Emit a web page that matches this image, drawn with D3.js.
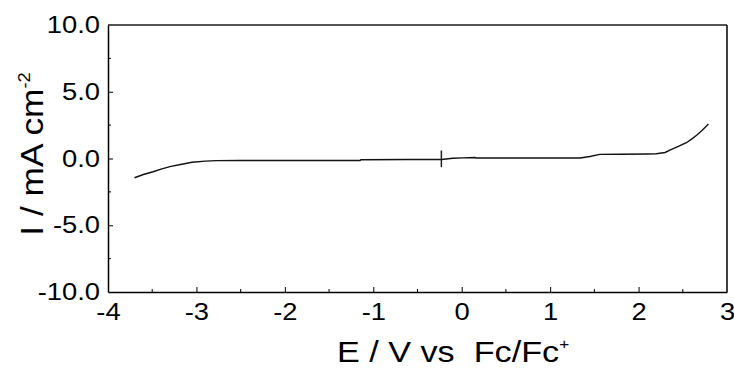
<!DOCTYPE html>
<html>
<head>
<meta charset="utf-8">
<script src="https://cdn.jsdelivr.net/npm/d3@7"></script>
<style>
  body { margin: 0; background: #fff; }
  svg text { font-family: "Liberation Sans", Arial, sans-serif; fill: #000; }
</style>
</head>
<body>
<div id="chart"></div>
<script>
// potential (V vs Fc/Fc+) and current density (mA cm-2)
const potential = [-3.70, -3.60, -3.49, -3.40, -3.30, -3.18, -3.05, -2.90, -2.77, -2.51, -2.00, -1.50, -1.15, -1.14, -0.60, -0.23, -0.10, 0.01, 0.15, 0.16, 0.50, 1.00, 1.34, 1.45, 1.56, 1.80, 2.10, 2.20, 2.30, 2.36, 2.45, 2.54, 2.60, 2.66, 2.72, 2.79];
const current   = [-1.44, -1.20, -0.99, -0.80, -0.61, -0.45, -0.28, -0.20, -0.16, -0.15, -0.15, -0.15, -0.15, -0.09, -0.08, -0.07, 0.02, 0.05, 0.07, 0.04, 0.04, 0.04, 0.04, 0.15, 0.31, 0.32, 0.34, 0.36, 0.45, 0.64, 0.90, 1.18, 1.45, 1.76, 2.12, 2.58];

// small vertical cursor mark on the curve
const markerE = -0.23;
const markerI = [-0.65, 0.60];

const xTicks = [-4, -3, -2, -1, 0, 1, 2, 3];
const yTicks = [-10, -5, 0, 5, 10];
const xMinor = [-3.5, -2.5, -1.5, -0.5, 0.5, 1.5, 2.5];
const yMinor = [-7.5, -2.5, 2.5, 7.5];

const width = 734, height = 374;
const margin = { top: 25, right: 7, bottom: 82, left: 108 };
const stretch = 1.14; // the original lettering is a bit wider than Liberation Sans

const x = d3.scaleLinear().domain([-4, 3]).range([margin.left, width - margin.right]);
const y = d3.scaleLinear().domain([-10, 10]).range([height - margin.bottom, margin.top]);

// plain hyphen for negatives, like the original
const hy = f => d => f(d).replace('\u2212', '-');

const svg = d3.select('#chart').append('svg')
    .attr('width', width)
    .attr('height', height);

// frame: top edge grey, right edge black
svg.append('line')
    .attr('x1', x(-4)).attr('x2', x(3))
    .attr('y1', y(10)).attr('y2', y(10))
    .attr('stroke', '#555').attr('stroke-width', 2);
svg.append('line')
    .attr('x1', x(3)).attr('x2', x(3))
    .attr('y1', y(10)).attr('y2', y(-10))
    .attr('stroke', '#000').attr('stroke-width', 1.5);

// bottom axis with inward ticks
const xAxis = svg.append('g')
    .attr('transform', `translate(0,${y(-10)})`)
    .call(d3.axisBottom(x).tickValues(xTicks).tickSizeInner(-5).tickSizeOuter(0).tickPadding(11).tickFormat(hy(d3.format('d'))));
xAxis.selectAll('.tick').filter(d => d === -4 || d === 3).select('line').remove();
xAxis.selectAll('.tick text')
    .attr('font-size', 24)
    .attr('dy', '0.71em')
    .attr('transform', `scale(${stretch},1)`);

svg.append('g')
    .attr('transform', `translate(0,${y(-10)})`)
    .selectAll('line').data(xMinor).join('line')
    .attr('x1', d => x(d)).attr('x2', d => x(d))
    .attr('y1', 0).attr('y2', -3)
    .attr('stroke', '#000');

// left axis with inward ticks
const yAxis = svg.append('g')
    .attr('transform', `translate(${x(-4)},0)`)
    .call(d3.axisLeft(y).tickValues(yTicks).tickSizeInner(-5).tickSizeOuter(0).tickPadding(7).tickFormat(hy(d3.format('.1f'))));
yAxis.selectAll('.tick').filter(d => d === -10 || d === 10).select('line').remove();
yAxis.selectAll('.tick text')
    .attr('font-size', 24)
    .attr('transform', `scale(${stretch},1)`);

svg.append('g')
    .attr('transform', `translate(${x(-4)},0)`)
    .selectAll('line').data(yMinor).join('line')
    .attr('x1', 0).attr('x2', 3)
    .attr('y1', d => y(d)).attr('y2', d => y(d))
    .attr('stroke', '#000');

svg.selectAll('.domain').attr('stroke', '#000').attr('stroke-width', 1.5);

// curve
const pts = potential.map((e, i) => [e, current[i]]);
svg.append('path')
    .datum(pts)
    .attr('fill', 'none')
    .attr('stroke', '#111')
    .attr('stroke-width', 1.4)
    .attr('d', d3.line().x(d => x(d[0])).y(d => y(d[1])));

svg.append('line')
    .attr('x1', x(markerE)).attr('x2', x(markerE))
    .attr('y1', y(markerI[0])).attr('y2', y(markerI[1]))
    .attr('stroke', '#222').attr('stroke-width', 1.5);

// axis titles
const xt = svg.append('text')
    .attr('transform', `translate(453,362) scale(${stretch},1)`)
    .attr('text-anchor', 'middle')
    .attr('font-size', 30);
xt.append('tspan').text('E / V vs\u00a0\u00a0Fc/Fc');
xt.append('tspan').attr('font-size', 15).attr('dy', -13).text('+');

const yt = svg.append('text')
    .attr('transform', `translate(43,154) rotate(-90) scale(${stretch},1)`)
    .attr('text-anchor', 'middle')
    .attr('font-size', 31);
yt.append('tspan').text('I / mA cm');
yt.append('tspan').attr('font-size', 16).attr('dy', -13).text('-2');
</script>
</body>
</html>
